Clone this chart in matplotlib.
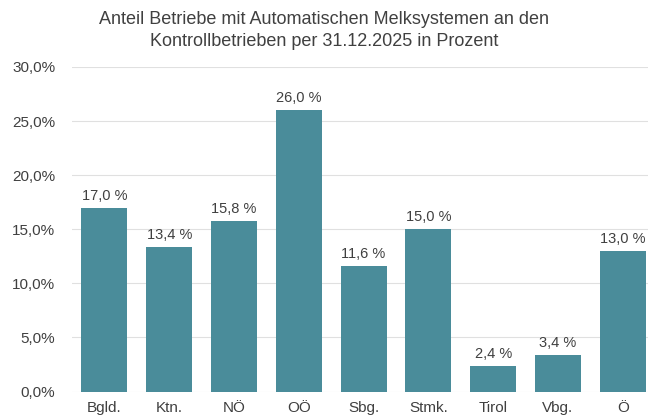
import matplotlib
matplotlib.use("Agg")
import matplotlib.pyplot as plt

regions = ["Bgld.", "Ktn.", "NÖ", "OÖ", "Sbg.", "Stmk.", "Tirol", "Vbg.", "Ö"]
shares = [17.0, 13.4, 15.8, 26.0, 11.6, 15.0, 2.4, 3.4, 13.0]
yticks = [0, 5, 10, 15, 20, 25, 30]

plt.rcParams['font.family'] = ['Liberation Sans', 'DejaVu Sans']
txt = '#404040'

fig = plt.figure(figsize=(6.48, 4.17), dpi=100)
ax = fig.add_axes([72/648, 25.5/417, 576/648, 324.5/417])

x = range(len(regions))
ax.bar(x, shares, width=0.71, color='#4a8c9a', zorder=2)

for xi, v in zip(x, shares):
    ax.annotate(f"{v:.1f} %".replace('.', ','), (xi, v), xytext=(0, 3.5),
                textcoords='offset points', ha='center', va='bottom',
                fontsize=10.5, color=txt)

ax.set_xlim(-0.5, 576/64.8 - 0.5)
ax.set_ylim(0, 30)
ax.set_yticks(yticks)
ax.set_yticklabels([f"{t:.1f}%".replace('.', ',') for t in yticks])
ax.set_xticks(list(x))
ax.set_xticklabels(regions)
ax.tick_params(axis='y', length=0, pad=12, labelsize=11, labelcolor=txt)
ax.tick_params(axis='x', length=0, pad=6.5, labelsize=11, labelcolor=txt)
ax.grid(axis='y', color='#e0e0e0', linewidth=0.8, zorder=0)
for s in ax.spines.values():
    s.set_visible(False)

fig.text(0.5, 1 - 19/417, "Anteil Betriebe mit Automatischen Melksystemen an den",
         ha='center', va='center', fontsize=13, color=txt)
fig.text(0.5, 1 - 42/417, "Kontrollbetrieben per 31.12.2025 in Prozent",
         ha='center', va='center', fontsize=13, color=txt)

fig.savefig("out.png", dpi=100)
